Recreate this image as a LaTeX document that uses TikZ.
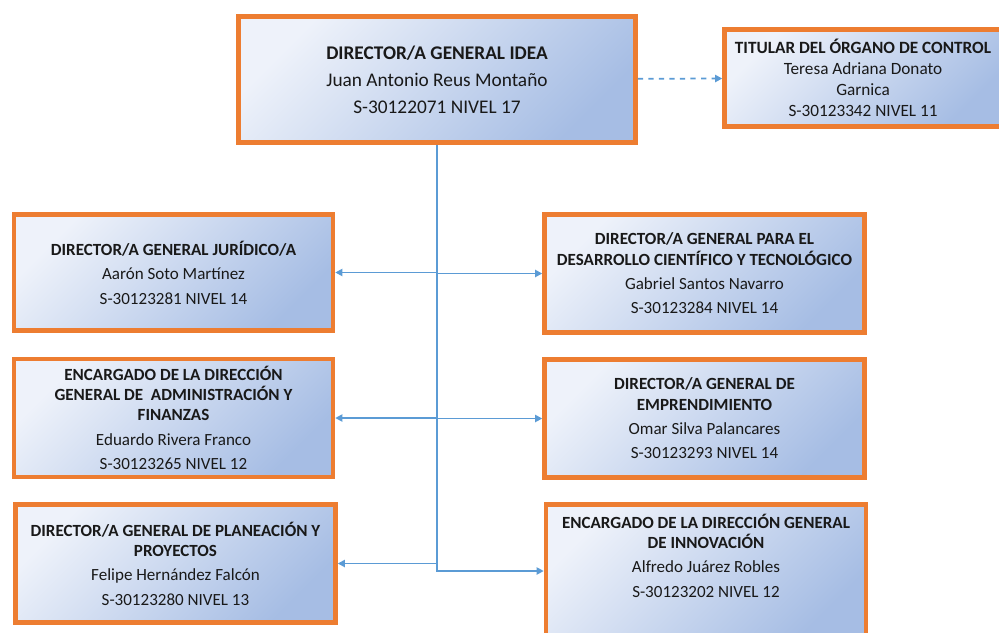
\documentclass[tikz,border=0pt]{standalone}
\usepackage{fontspec}
\setmainfont{Carlito}
\usepackage{xcolor}
\usepackage{tikz}
\usetikzlibrary{arrows.meta,positioning,shapes}

\definecolor{boxorange}{RGB}{237,125,49}
\definecolor{boxlight}{RGB}{238,242,250}
\definecolor{boxdark}{RGB}{166,189,228}
\definecolor{linkblue}{RGB}{91,155,213}

\begin{document}
\begin{tikzpicture}[x=0.02cm, y=-0.02cm,
  unit/.style={draw=boxorange, line width=2.6pt, top color=boxlight, bottom color=boxdark,
    shading angle=45, align=center, inner sep=2pt, text=black!90,
    font=\fontsize{9.7}{11.4}\selectfont},
  link/.style={draw=linkblue, line width=1pt, -{Triangle[length=4pt,width=4pt]}}]
\useasboundingbox (0,0) rectangle (999,632);

\node[unit, minimum width=7.94cm, minimum height=2.52cm, font=\fontsize{11}{15.4}\selectfont] (dir) at (437,79.5)
  {\textbf{DIRECTOR/A GENERAL IDEA}\\Juan Antonio Reus Montaño\\S-30122071 NIVEL 17};
\node[unit, minimum width=5.54cm, minimum height=1.94cm, font=\fontsize{9.8}{11}\selectfont] (oic) at (863,78)
  {\textbf{TITULAR DEL ÓRGANO DE CONTROL}\\[1pt]Teresa Adriana Donato\\[1pt]Garnica\\[1pt]S-30123342 NIVEL 11};

\node[unit, minimum width=6.38cm, minimum height=2.32cm] (jur) at (173.5,272.5)
  {\textbf{DIRECTOR/A GENERAL JURÍDICO/A}\\[2.5pt]Aarón Soto Martínez\\[2.5pt]S-30123281 NIVEL 14};
\node[unit, minimum width=6.4cm, minimum height=2.36cm] (dcyt) at (704.5,273.5)
  {\textbf{DIRECTOR/A GENERAL PARA EL}\\\textbf{DESARROLLO CIENTÍFICO Y TECNOLÓGICO}\\[2.5pt]Gabriel Santos Navarro\\[2.5pt]S-30123284 NIVEL 14};

\node[unit, minimum width=6.38cm, minimum height=2.36cm] (adm) at (173.5,418)
  {\textbf{ENCARGADO DE LA DIRECCIÓN}\\\textbf{GENERAL DE \ ADMINISTRACIÓN Y}\\\textbf{FINANZAS}\\[2.5pt]Eduardo Rivera Franco\\[2.5pt]S-30123265 NIVEL 12};
\node[unit, minimum width=6.4cm, minimum height=2.36cm] (emp) at (704.5,418.5)
  {\textbf{DIRECTOR/A GENERAL DE}\\\textbf{EMPRENDIMIENTO}\\[2.5pt]Omar Silva Palancares\\[2.5pt]S-30123293 NIVEL 14};

\node[unit, minimum width=6.4cm, minimum height=2.36cm] (plan) at (175.5,563.5)
  {\textbf{DIRECTOR/A GENERAL DE PLANEACIÓN Y}\\\textbf{PROYECTOS}\\[2.5pt]Felipe Hernández Falcón\\[2.5pt]S-30123280 NIVEL 13};
\node[unit, minimum width=6.4cm, minimum height=2.66cm, text depth=0pt] (inn) at (706,571)
  {\textbf{ENCARGADO DE LA DIRECCIÓN GENERAL}\\\textbf{DE INNOVACIÓN}\\[2.5pt]Alfredo Juárez Robles\\[2.5pt]S-30123202 NIVEL 12\\[6pt]~};

\draw[link, dashed] (dir) -- (oic);
\draw[link] (dir) |- (inn);
\draw[link] (dir.south |- jur.east) -- (jur);
\draw[link] (dir.south |- dcyt.west) -- (dcyt);
\draw[link] (dir.south |- adm.east) -- (adm);
\draw[link] (dir.south |- emp.west) -- (emp);
\draw[link] (dir.south |- plan.east) -- (plan);
\end{tikzpicture}
\end{document}
